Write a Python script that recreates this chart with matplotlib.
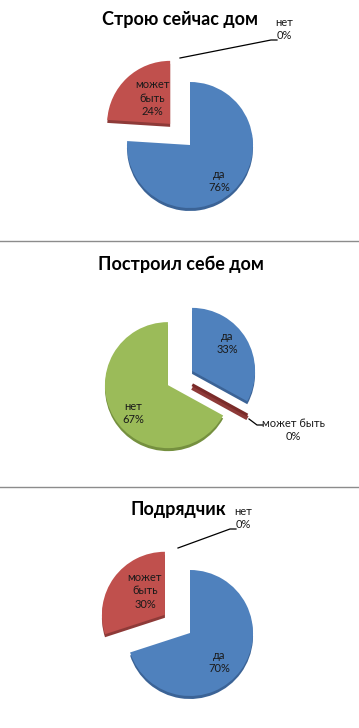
import matplotlib
matplotlib.use("Agg")
import matplotlib.pyplot as plt

# ---- data ----
categories = ["да", "может быть", "нет"]
titles = ["Строю сейчас дом", "Построил себе дом", "Подрядчик"]
values_1 = [76, 24, 0]
values_2 = [33, 0, 67]
values_3 = [70, 30, 0]

# ---- style / layout ----
W, H = 359, 728
colors = ["#4F81BD", "#C0504D", "#9BBB59"]
side_colors = ["#3B6396", "#8E3A38", "#75903F"]
zero_edge = ["#2F5080", "#7A2B29", "#5E7631"]

plt.rcParams['font.family'] = ['Lato', 'DejaVu Sans']

fig = plt.figure(figsize=(W / 100, H / 100), dpi=100)
ax = fig.add_axes([0, 0, 1, 1])


def py(y):
    return H - y


charts = [
    dict(values=values_1, title=titles[0], center=(190, 145), r=63,
         explode=[0, 29, 0], title_xy=(180, 20),
         labels={0: (219, 181), 1: (152, 98), 2: (284, 29)},
         leader=[(180, 58), (271, 40), (277, 40)]),
    dict(values=values_2, title=titles[1], center=(180, 378), r=63,
         explode=[14, 14, 14], title_xy=(181, 264),
         labels={0: (227, 343), 1: (293, 430), 2: (133, 413)},
         leader=[(249, 419), (257, 425), (263, 425)]),
    dict(values=values_3, title=titles[2], center=(190, 633), r=63,
         explode=[0, 31, 0], title_xy=(178, 509),
         labels={0: (219, 662), 1: (145, 591), 2: (243, 518)},
         leader=[(178, 548), (230, 529), (236, 529)]),
]

for ci, ch in enumerate(charts):
    cx, cy = ch["center"]
    vals = ch["values"]
    # 3D side (darker, shifted down)
    side, _ = ax.pie(vals, colors=side_colors, startangle=90, counterclock=False,
                     radius=ch["r"], center=(cx, py(cy) - 3), explode=ch["explode"],
                     frame=True, normalize=True)
    top, _ = ax.pie(vals, colors=colors, startangle=90, counterclock=False,
                    radius=ch["r"], center=(cx, py(cy)), explode=ch["explode"],
                    frame=True, normalize=True)
    for i, (ws, wt) in enumerate(zip(side, top)):
        if vals[i] == 0:
            if ci == 1:
                ws.set_edgecolor(side_colors[i]); ws.set_linewidth(3.2)
                wt.set_edgecolor(zero_edge[i]); wt.set_linewidth(2.2)
            else:
                ws.set_visible(False); wt.set_visible(False)
        else:
            ws.set_linewidth(0)
            wt.set_linewidth(0)
    # labels
    for i, (lx, ly) in ch["labels"].items():
        name = categories[i]
        if name == "может быть" and vals[i] > 0:
            txt = f"может\nбыть\n{vals[i]}%"
        else:
            txt = f"{name}\n{vals[i]}%"
        ax.text(lx, py(ly), txt, ha='center', va='center', fontsize=8,
                color='#1a1a1a', linespacing=1.32)
    # leader line for 0% slice
    xs = [p[0] for p in ch["leader"]]
    ys = [py(p[1]) for p in ch["leader"]]
    ax.plot(xs, ys, color='black', lw=0.9)
    # title
    tx, ty = ch["title_xy"]
    ax.text(tx, py(ty), ch["title"], ha='center', va='center', fontsize=13,
            fontweight='bold', color='black')

# separators
for y in (241, 487):
    ax.plot([0, W], [py(y), py(y)], color='#8c8c8c', lw=1.0)

ax.set_xlim(0, W)
ax.set_ylim(0, H)
ax.set_aspect('auto')
ax.axis('off')

fig.savefig("out.png", dpi=100)
